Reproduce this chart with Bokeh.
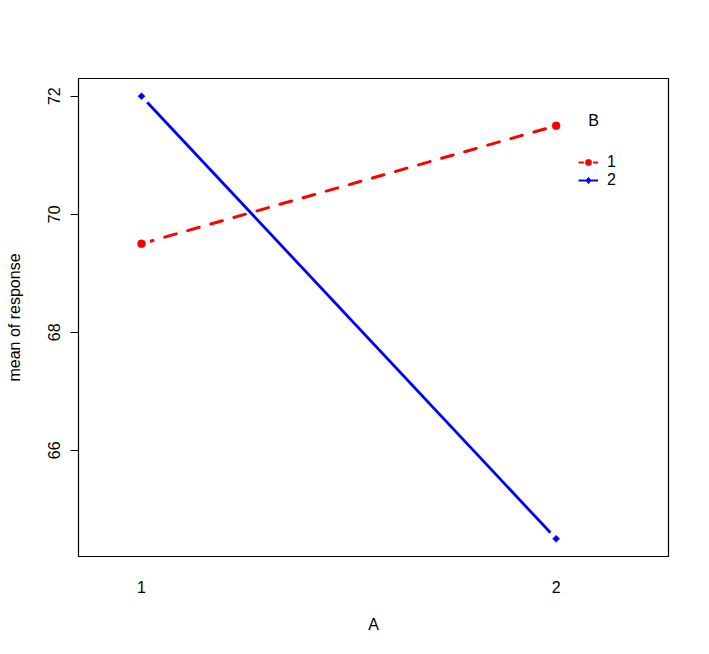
import numpy as np
from bokeh.plotting import figure
from bokeh.models import (Range1d, FixedTicker, Legend, LegendItem, Label,
                          ColumnDataSource)
from bokeh.embed import file_html
from bokeh.resources import INLINE

# ---- data ----
A_levels = [1, 2]
B1_means = [69.5, 71.5]
B2_means = [72.0, 64.5]
y_ticks = [66, 68, 70, 72]
legend_title = "B"
legend_labels = ["1", "2"]
x_label = "A"
y_label = "mean of response"

FONT = "Liberation Sans"

p = figure(frame_width=590, frame_height=478,
           x_range=Range1d(0.848, 2.271), y_range=Range1d(64.2, 72.3),
           output_backend="svg", toolbar_location=None,
           min_border_left=78, min_border_top=78, min_border_right=25,
           min_border_bottom=82)
p.background_fill_color = "white"
p.border_fill_color = "white"
p.outline_line_color = "black"
p.outline_line_width = 1.2
p.grid.visible = False

# x axis
xa = p.xaxis[0]
xa.ticker = FixedTicker(ticks=A_levels)
xa.axis_line_color = None
xa.major_tick_line_color = None
xa.major_tick_out = 0
xa.major_tick_in = 0
xa.minor_tick_line_color = None
xa.major_label_text_font = FONT
xa.major_label_text_font_size = "16px"
xa.major_label_text_color = "black"
xa.major_label_standoff = 24
xa.axis_label = x_label
xa.axis_label_text_font = FONT
xa.axis_label_text_font_size = "16px"
xa.axis_label_text_font_style = "normal"
xa.axis_label_text_color = "black"
xa.axis_label_standoff = 20

# y axis
ya = p.yaxis[0]
ya.ticker = FixedTicker(ticks=y_ticks)
ya.axis_line_color = None
ya.major_tick_line_color = "black"
ya.major_tick_line_width = 1.2
ya.major_tick_out = 8
ya.major_tick_in = 0
ya.minor_tick_line_color = None
ya.major_label_orientation = "vertical"
ya.major_label_text_font = FONT
ya.major_label_text_font_size = "16px"
ya.major_label_text_color = "black"
ya.major_label_standoff = 10
ya.axis_label = y_label
ya.axis_label_text_font = FONT
ya.axis_label_text_font_size = "16px"
ya.axis_label_text_font_style = "normal"
ya.axis_label_text_color = "black"
ya.axis_label_standoff = 23

src1 = ColumnDataSource(dict(x=A_levels, y=B1_means))
src2 = ColumnDataSource(dict(x=A_levels, y=B2_means))

p.line("x", "y", source=src1, line_color="red", line_width=3,
       line_dash="12 12", line_cap="round")
p.line("x", "y", source=src2, line_color="blue", line_width=2.8)

# white gaps around points (type = "b")
p.scatter("x", "y", source=src1, marker="circle", size=12,
          fill_color="white", line_color="white", line_width=6)
p.scatter("x", "y", source=src2, marker="circle", size=11,
          fill_color="white", line_color="white", line_width=6)

p.scatter("x", "y", source=src1, marker="circle", size=8,
          fill_color="red", line_color="red", line_width=0.5)
p.scatter("x", "y", source=src2, marker="square", angle=0.785398,
          size=5, fill_color="blue", line_color="blue", line_width=0.5)

# legend-only glyphs (single undrawn NaN point)
def nan_src():
    return ColumnDataSource(dict(x=np.array([np.nan]), y=np.array([np.nan])))

lg_l1 = p.line("x", "y", source=nan_src(), line_color="red", line_width=2)
lg_g1 = p.scatter("x", "y", source=nan_src(), marker="circle",
                  fill_color="white", line_color="white", line_width=3)
lg_p1 = p.scatter("x", "y", source=nan_src(), marker="circle",
                  fill_color="red", line_color="red", line_width=0.5)
lg_l2 = p.line("x", "y", source=nan_src(), line_color="blue", line_width=2)
lg_p2 = p.scatter("x", "y", source=nan_src(), marker="diamond",
                  fill_color="blue", line_color="blue", line_width=1)

legend = Legend(items=[LegendItem(label=legend_labels[0], renderers=[lg_l1, lg_g1, lg_p1]),
                       LegendItem(label=legend_labels[1], renderers=[lg_l2, lg_p2])],
                location=(500, 367), orientation="vertical",
                border_line_color=None, background_fill_alpha=0,
                padding=0, margin=0, spacing=0,
                glyph_width=20, glyph_height=16, label_height=16,
                label_standoff=9, label_text_font=FONT,
                label_text_font_size="16px", label_text_color="black")
p.add_layout(legend, "center")

p.add_layout(Label(x=515, y=436, x_units="screen", y_units="screen",
                   text=legend_title, text_align="center",
                   text_baseline="middle", text_font=FONT,
                   text_font_size="16px", text_color="black"))

open("out.html", "w").write(file_html(p, INLINE))
